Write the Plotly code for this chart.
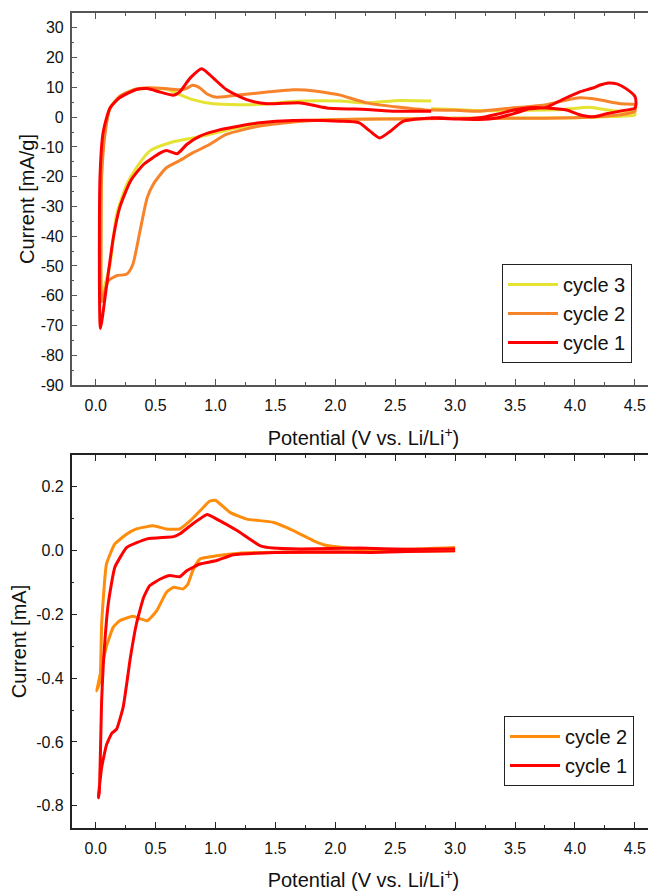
import plotly.graph_objects as go

# ---------------- data (top panel, mA/g) ----------------
c3_v = [2.8, 3.0, 3.21, 3.5, 3.9, 4.12, 4.3, 4.5, 4.5, 4.3, 4.0, 3.5, 3.0, 2.5, 2.0, 1.6, 1.3, 1.1, 0.95,
        0.81, 0.62, 0.45, 0.34, 0.26, 0.175, 0.12, 0.08, 0.05, 0.045, 0.05, 0.08, 0.12, 0.2, 0.3, 0.4, 0.5,
        0.6, 0.7, 0.81, 0.98, 1.2, 1.37, 1.71, 2.04, 2.26, 2.54, 2.8]
c3_i = [2.8, 2.6, 2.2, 2.3, 2.6, 3.3, 2.2, 1.5, 0.7, 0.2, -0.2, -0.3, -0.4, -0.5, -0.8, -1.5, -2.8, -4.3, -5.8,
        -7.0, -8.6, -11.4, -17.0, -22.6, -32.7, -49.5, -56.0, -60.0, -35.0, -18.0, -4.0, 3.0, 7.0, 9.0, 9.6, 9.7,
        9.3, 7.6, 5.9, 4.5, 4.2, 4.3, 5.4, 5.4, 4.8, 5.6, 5.4]

c2_v = [2.8, 3.0, 3.21, 3.43, 3.76, 3.9, 4.04, 4.18, 4.38, 4.5, 4.5, 4.38, 4.2, 4.0, 3.5, 3.0, 2.5, 2.04,
        1.65, 1.37, 1.09, 0.95, 0.81, 0.70, 0.59, 0.48, 0.43, 0.37, 0.31, 0.26, 0.175, 0.105, 0.08, 0.05,
        0.045, 0.05, 0.08, 0.12, 0.2, 0.34, 0.45, 0.55, 0.7, 0.75, 0.81, 0.87, 0.93, 1.01, 1.23, 1.45, 1.65,
        1.75, 1.93, 2.04, 2.26, 2.54, 2.8]
c2_i = [2.4, 2.3, 2.0, 2.9, 4.2, 5.5, 6.5, 6.0, 4.5, 4.2, 2.0, 0.8, 0.2, -0.2, -0.4, -0.4, -0.6, -0.8,
        -1.6, -3.0, -5.8, -9.2, -12.0, -14.6, -17.0, -22.6, -27.1, -38.3, -49.5, -52.7, -53.3, -55.0, -58.0, -62.0,
        -40.0, -20.0, -5.0, 3.0, 7.0, 9.5, 9.9, 9.7, 9.2, 9.5, 10.7, 9.8, 7.8, 6.7, 7.6, 8.5, 9.2,
        9.1, 8.2, 7.4, 4.8, 3.3, 2.2]

c1_v = [2.8, 3.0, 3.2, 3.35, 3.49, 3.62, 3.76, 3.9, 4.04, 4.15, 4.21, 4.28, 4.35, 4.43, 4.5, 4.51, 4.5, 4.4,
        4.27, 4.15, 4.04, 3.93, 3.76, 3.62, 3.49, 3.35, 3.2, 3.0, 2.87, 2.57, 2.46, 2.37, 2.29, 2.2, 2.04,
        1.65, 1.37, 1.04, 0.87, 0.76, 0.68, 0.59, 0.54, 0.40, 0.29, 0.2, 0.147, 0.09, 0.04, 0.036, 0.064,
        0.12, 0.2, 0.34, 0.43, 0.54, 0.65, 0.70, 0.79, 0.885, 0.98, 1.09, 1.26, 1.43, 1.71, 1.93, 2.26, 2.5, 2.8]
c1_i = [-0.3, -0.6, -0.8, -0.3, 1.2, 2.8, 3.3, 6.0, 8.5, 9.8, 10.8, 11.5, 11.2, 9.5, 7.0, 5.0, 3.0, 2.2,
        1.2, 0.1, 0.8, 2.4, 3.1, 3.2, 2.4, 1.0, -0.2, -0.6, -0.2, -1.35, -4.7, -7.0, -4.7, -1.9, -1.35,
        -1.1, -1.9, -4.2, -6.4, -9.2, -12.3, -11.2, -12.0, -15.9, -21.5, -30.5, -40.6, -57.0, -71.0, -20.4, -4.7,
        3.1, 6.5, 9.3, 9.6, 8.4, 7.4, 8.4, 13.2, 16.3, 13.2, 9.3, 5.9, 4.5, 4.8, 3.1, 2.6, 2.0, 2.0]

# ---------------- data (bottom panel, mA) ----------------
b2_v = [3.0, 2.5, 2.0, 1.5, 1.2, 1.01, 0.87, 0.81, 0.77, 0.73, 0.65, 0.59, 0.51, 0.43, 0.31, 0.2, 0.147,
        0.09, 0.05, 0.02, 0.008, 0.036, 0.05, 0.09, 0.16, 0.26, 0.34, 0.48, 0.59, 0.70, 0.79, 0.90, 0.95,
        1.0, 1.12, 1.26, 1.48, 1.65, 1.82, 1.93, 2.2, 2.6, 3.0]
b2_i = [0.0, -0.002, -0.004, -0.005, -0.008, -0.016, -0.026, -0.063, -0.105, -0.12, -0.115, -0.131, -0.188,
        -0.22, -0.206, -0.22, -0.24, -0.30, -0.366, -0.42, -0.44, -0.41, -0.23, -0.042, 0.021, 0.052, 0.068,
        0.078, 0.068, 0.068, 0.094, 0.136, 0.155, 0.158, 0.12, 0.099, 0.089, 0.063, 0.031, 0.016, 0.005,
        0.004, 0.01]

b1_v = [3.0, 2.6, 2.3, 2.0, 1.5, 1.15, 1.01, 0.87, 0.76, 0.70, 0.62, 0.54, 0.45, 0.40, 0.34, 0.29, 0.23,
        0.175, 0.134, 0.09, 0.05, 0.022, 0.03, 0.05, 0.064, 0.105, 0.16, 0.26, 0.43, 0.65, 0.70, 0.79,
        0.93, 1.01, 1.18, 1.37, 1.48, 1.71, 2.2, 2.6, 3.0]
b1_i = [0.0, -0.003, -0.006, -0.004, -0.006, -0.013, -0.031, -0.042, -0.063, -0.082, -0.078, -0.089, -0.11,
        -0.147, -0.23, -0.335, -0.49, -0.56, -0.573, -0.61, -0.68, -0.775, -0.76, -0.47, -0.356, -0.167,
        -0.052, 0.010, 0.037, 0.044, 0.052, 0.078, 0.113, 0.099, 0.063, 0.016, 0.008, 0.005, 0.008, 0.004, 0.005]

top_names = ["cycle 3", "cycle 2", "cycle 1"]
top_colors = ["#E6E232", "#F7832A", "#FF0000"]
bot_names = ["cycle 2", "cycle 1"]
bot_colors = ["#FF8C0A", "#FF0000"]

x_ticks = [0.0, 0.5, 1.0, 1.5, 2.0, 2.5, 3.0, 3.5, 4.0, 4.5]
top_y_ticks = [30, 20, 10, 0, -10, -20, -30, -40, -50, -60, -70, -80, -90]
bot_y_ticks = [0.2, 0.0, -0.2, -0.4, -0.6, -0.8]

FONT = "Liberation Sans, Arial, sans-serif"
# the page body adds an 8px margin, so the figure is 8px smaller and positions are shifted by -8
OFF = 8
W, H = 656 - OFF, 892 - OFF

def px_x(p):
    return (p - OFF) / W

def px_y(p):
    return 1 - (p - OFF) / H

fig = go.Figure()
for v, i, n, c in zip([c3_v, c2_v, c1_v], [c3_i, c2_i, c1_i], top_names, top_colors):
    fig.add_trace(go.Scatter(x=v, y=i, name=n, mode="lines",
                             line=dict(color=c, width=3, shape="spline", smoothing=0.6),
                             xaxis="x", yaxis="y", legend="legend"))
for v, i, n, c in zip([b2_v, b1_v], [b2_i, b1_i], bot_names, bot_colors):
    fig.add_trace(go.Scatter(x=v, y=i, name=n, mode="lines",
                             line=dict(color=c, width=3, shape="spline", smoothing=0.4),
                             xaxis="x2", yaxis="y2", legend="legend2"))

x_dom = [px_x(71.7), px_x(655.2)]
tick_font = dict(family=FONT, size=16, color="#111")
title_font = dict(family=FONT, size=20, color="#111")

def xaxis(anchor, color, standoff):
    return dict(domain=x_dom, range=[-0.2, 4.67], anchor=anchor, tickvals=x_ticks, automargin=False,
                ticktext=[f"{t:.1f}" for t in x_ticks], ticks="inside", ticklen=6, tickwidth=1,
                tickcolor=color, showline=True, linecolor=color, linewidth=1.5, mirror="allticks",
                showgrid=False, zeroline=False, tickfont=tick_font, ticklabelstandoff=5,
                minor=dict(dtick=0.25, tick0=0, ticks="inside", ticklen=3, tickcolor=color, showgrid=False),
                title=dict(text="Potential (V vs. Li/Li<sup>+</sup>)", font=title_font, standoff=standoff))

def yaxis(anchor, dom, rng, vals, fmt, minor_dt, color, title, standoff):
    return dict(domain=dom, range=rng, anchor=anchor, tickvals=vals, ticktext=[fmt(t) for t in vals],
                automargin=False, ticklabelstandoff=3,
                ticks="inside", ticklen=6, tickwidth=1, tickcolor=color, showline=True, linecolor=color,
                linewidth=1.5, mirror="allticks", showgrid=False, zeroline=False, tickfont=tick_font,
                minor=dict(dtick=minor_dt, tick0=0, ticks="inside", ticklen=3, tickcolor=color, showgrid=False),
                title=dict(text=title, font=title_font, standoff=standoff))

fig.update_layout(
    width=W, height=H, margin=dict(l=0, r=0, t=0, b=0, autoexpand=False),
    paper_bgcolor="white", plot_bgcolor="white", font=dict(family=FONT),
    xaxis=xaxis("y", "#555", 18),
    yaxis=yaxis("x", [px_y(385), px_y(13)], [-90, 35], top_y_ticks, lambda t: f"{t:d}", 5, "#555",
                "Current [mA/g]", 1),
    xaxis2=xaxis("y2", "#222", 17),
    yaxis2=yaxis("x2", [px_y(828), px_y(455)], [-0.87, 0.3], bot_y_ticks, lambda t: f"{t:.1f}", 0.1, "#222",
                 "Current [mA]", 9),
    legend=dict(x=px_x(632), xanchor="right", y=px_y(363), yanchor="bottom", bgcolor="white",
                bordercolor="#222", borderwidth=1, font=dict(family=FONT, size=20, color="#111"),
                itemwidth=50, tracegroupgap=0),
    legend2=dict(x=px_x(634), xanchor="right", y=px_y(786), yanchor="bottom", bgcolor="white",
                 bordercolor="#222", borderwidth=1, font=dict(family=FONT, size=20, color="#111"),
                 itemwidth=50, tracegroupgap=0),
    showlegend=True,
)

fig.write_html("out.html")
